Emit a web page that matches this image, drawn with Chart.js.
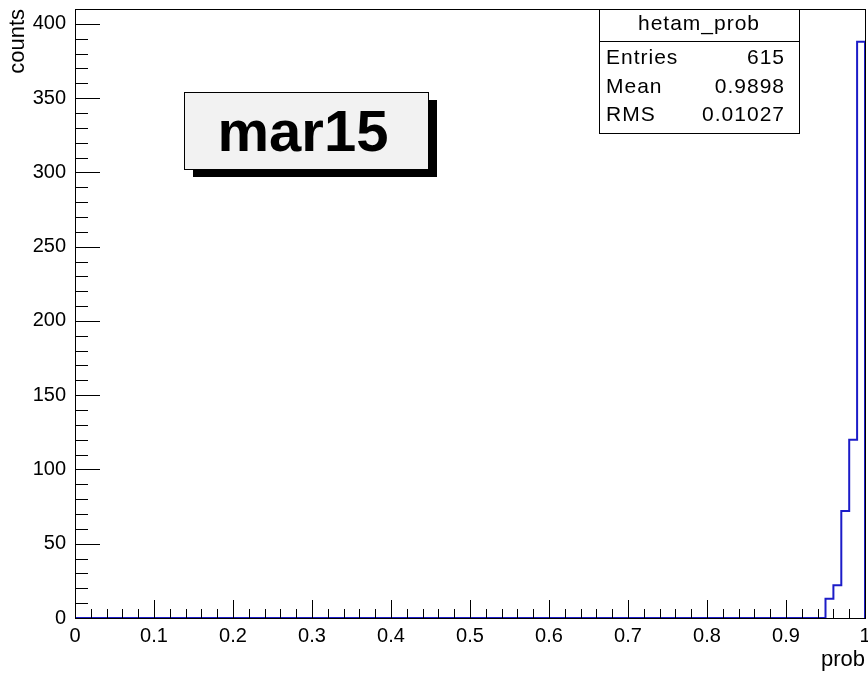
<!DOCTYPE html>
<html>
<head>
<meta charset="utf-8">
<script src="https://cdn.jsdelivr.net/npm/chart.js@4.4.0/dist/chart.umd.min.js"></script>
<style>
  html, body { margin: 0; padding: 0; background: #fff; }
  canvas { display: block; }
</style>
</head>
<body>
<canvas id="histChart" width="868" height="675"></canvas>
<script>
// Histogram data (bins of width 0.01, only non-empty bins listed)
const binLow = [0.95, 0.96, 0.97, 0.98, 0.99];
const binCounts = [13, 22, 72, 120, 388];
const binWidth = 0.01;

// Axis ticks
const xTicks = [0, 0.1, 0.2, 0.3, 0.4, 0.5, 0.6, 0.7, 0.8, 0.9, 1];
const xTickLabels = ['0', '0.1', '0.2', '0.3', '0.4', '0.5', '0.6', '0.7', '0.8', '0.9', '1'];
const yTicks = [0, 50, 100, 150, 200, 250, 300, 350, 400];
const yTickLabels = ['0', '50', '100', '150', '200', '250', '300', '350', '400'];

// Stats box and label
const statsTitle = 'hetam_prob';
const statsNames = ['Entries', 'Mean', 'RMS'];
const statsValues = ['615', '0.9898', '0.01027'];
const runLabel = 'mar15';

const FONT = '"Liberation Sans", Arial, Helvetica, sans-serif';

// Build the step outline from the bins
const histPoints = [{ x: 0, y: 0 }];
binLow.forEach((lo, i) => histPoints.push({ x: lo, y: binCounts[i] }));
histPoints.push({ x: binLow[binLow.length - 1] + binWidth, y: 0 });

// Frame, inward ticks, stats box and run label (ROOT style)
const rootStyle = {
  id: 'rootStyle',
  afterDatasetsDraw(chart) {
    const { ctx, chartArea: a, scales: { x, y } } = chart;
    ctx.save();
    ctx.strokeStyle = '#000';
    ctx.lineWidth = 1;
    ctx.beginPath();
    // y ticks: minor every 10, major every 50
    for (let v = 0; v <= y.max; v += 10) {
      const py = Math.round(y.getPixelForValue(v)) + 0.5;
      const len = v % 50 === 0 ? 25 : 13;
      ctx.moveTo(a.left, py);
      ctx.lineTo(a.left + len, py);
    }
    // x ticks: minor every 0.02, major every 0.1
    for (let i = 0; i <= 50; i++) {
      const px = Math.round(x.getPixelForValue(i * 0.02)) + 0.5;
      const len = i % 5 === 0 ? 18 : 9;
      ctx.moveTo(px, a.bottom);
      ctx.lineTo(px, a.bottom - len);
    }
    ctx.stroke();
    ctx.strokeRect(Math.round(a.left) + 0.5, Math.round(a.top) + 0.5,
      Math.round(a.right - a.left), Math.round(a.bottom - a.top));
    ctx.restore();
  },
  afterDraw(chart) {
    const { ctx } = chart;
    ctx.save();

    // stats box
    const bx = 599, by = 9, bw = 200, bh = 124, hdr = 32;
    ctx.fillStyle = '#fff';
    ctx.fillRect(bx, by, bw, bh);
    ctx.strokeStyle = '#000';
    ctx.lineWidth = 1;
    ctx.strokeRect(bx + 0.5, by + 0.5, bw, bh);
    ctx.beginPath();
    ctx.moveTo(bx, by + hdr + 0.5);
    ctx.lineTo(bx + bw, by + hdr + 0.5);
    ctx.stroke();

    ctx.fillStyle = '#000';
    ctx.font = '21px ' + FONT;
    ctx.letterSpacing = '1px';
    ctx.textBaseline = 'alphabetic';
    ctx.textAlign = 'center';
    ctx.fillText(statsTitle, bx + bw / 2, 30);
    const rowBase = [64, 93, 121];
    statsNames.forEach((name, i) => {
      ctx.textAlign = 'left';
      ctx.fillText(name, 606, rowBase[i]);
      ctx.textAlign = 'right';
      ctx.fillText(statsValues[i], 785, rowBase[i]);
    });
    ctx.letterSpacing = '0px';

    // run label with drop shadow
    const lx = 184, ly = 92, lw = 244, lh = 77;
    ctx.fillStyle = '#000';
    ctx.fillRect(lx + 9, ly + 8, lw, lh);
    ctx.fillStyle = '#f2f2f2';
    ctx.fillRect(lx, ly, lw, lh);
    ctx.strokeRect(lx + 0.5, ly + 0.5, lw, lh);
    ctx.fillStyle = '#000';
    ctx.font = 'bold 58px ' + FONT;
    ctx.textAlign = 'center';
    ctx.fillText(runLabel, 303, 151);

    ctx.restore();
  }
};

new Chart(document.getElementById('histChart'), {
  type: 'line',
  data: {
    datasets: [{
      label: statsTitle,
      data: histPoints,
      stepped: true,
      borderColor: '#1c1cc8',
      borderWidth: 2,
      pointRadius: 0,
      fill: false,
      tension: 0
    }]
  },
  options: {
    responsive: false,
    animation: false,
    layout: { padding: { top: 9, right: 3, left: 0, bottom: 0 } },
    plugins: {
      legend: { display: false },
      tooltip: { enabled: false }
    },
    scales: {
      x: {
        type: 'linear',
        min: 0,
        max: 1,
        grid: { display: false, drawTicks: false },
        border: { display: false },
        afterBuildTicks: s => { s.ticks = xTicks.map(v => ({ value: v })); },
        afterFit: s => { s.height = 57; s.paddingLeft = 0; s.paddingRight = 0; },
        ticks: {
          padding: 6,
          maxRotation: 0,
          autoSkip: false,
          color: '#000',
          font: { family: FONT, size: 20 },
          callback: (v, i) => xTickLabels[i]
        },
        title: {
          display: true,
          text: 'prob',
          align: 'end',
          color: '#000',
          font: { family: FONT, size: 22 },
          padding: { top: 0, bottom: 2 }
        }
      },
      y: {
        type: 'linear',
        min: 0,
        max: 410,
        grid: { display: false, drawTicks: false },
        border: { display: false },
        afterBuildTicks: s => { s.ticks = yTicks.map(v => ({ value: v })); },
        afterFit: s => { s.width = 75; s.paddingTop = 0; s.paddingBottom = 0; },
        ticks: {
          padding: 9,
          autoSkip: false,
          color: '#000',
          font: { family: FONT, size: 20 },
          callback: (v, i) => yTickLabels[i]
        },
        title: {
          display: true,
          text: 'counts',
          align: 'end',
          color: '#000',
          font: { family: FONT, size: 22 },
          padding: { top: 5, bottom: 0 }
        }
      }
    }
  },
  plugins: [rootStyle]
});
</script>
</body>
</html>
